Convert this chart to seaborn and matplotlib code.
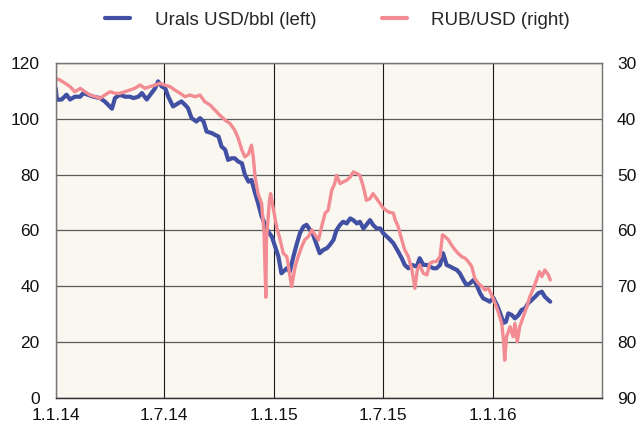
import matplotlib
matplotlib.use("Agg")
import matplotlib.pyplot as plt
from matplotlib.lines import Line2D
import seaborn as sns
import pandas as pd

# ---- data ----
urals_dates = [
    "2014-01-01", "2014-01-03", "2014-01-11", "2014-01-19", "2014-01-25", "2014-02-02", "2014-02-11",
    "2014-02-16", "2014-02-24", "2014-03-05", "2014-03-16", "2014-03-24", "2014-04-05", "2014-04-10",
    "2014-04-18", "2014-04-27", "2014-05-05", "2014-05-11", "2014-05-19", "2014-05-25", "2014-06-02",
    "2014-06-10", "2014-06-16", "2014-06-21", "2014-06-27", "2014-07-03", "2014-07-08", "2014-07-16",
    "2014-07-25", "2014-07-30", "2014-08-05", "2014-08-10", "2014-08-16", "2014-08-24", "2014-08-30",
    "2014-09-05", "2014-09-10", "2014-09-19", "2014-09-24", "2014-09-30", "2014-10-05", "2014-10-11",
    "2014-10-16", "2014-10-22", "2014-10-27", "2014-11-02", "2014-11-08", "2014-11-13", "2014-11-19",
    "2014-11-24", "2014-11-30", "2014-12-05", "2014-12-11", "2014-12-17", "2014-12-22", "2014-12-28",
    "2015-01-02", "2015-01-08", "2015-01-13", "2015-01-22", "2015-01-27", "2015-02-02", "2015-02-08",
    "2015-02-13", "2015-02-19", "2015-02-24", "2015-03-02", "2015-03-07", "2015-03-13", "2015-03-18",
    "2015-03-24", "2015-03-30", "2015-04-04", "2015-04-10", "2015-04-15", "2015-04-21", "2015-04-26",
    "2015-05-02", "2015-05-08", "2015-05-13", "2015-05-19", "2015-05-24", "2015-05-30", "2015-06-04",
    "2015-06-10", "2015-06-15", "2015-06-21", "2015-06-27", "2015-07-02", "2015-07-11", "2015-07-19",
    "2015-07-27", "2015-08-02", "2015-08-07", "2015-08-13", "2015-08-19", "2015-08-27", "2015-09-01",
    "2015-09-07", "2015-09-13", "2015-09-18", "2015-09-24", "2015-09-29", "2015-10-05", "2015-10-10",
    "2015-10-16", "2015-10-22", "2015-10-27", "2015-11-02", "2015-11-07", "2015-11-13", "2015-11-18",
    "2015-11-24", "2015-11-30", "2015-12-05", "2015-12-11", "2015-12-16", "2015-12-22", "2015-12-27",
    "2016-01-02", "2016-01-08", "2016-01-13", "2016-01-19", "2016-01-23", "2016-01-27", "2016-02-02",
    "2016-02-07", "2016-02-13", "2016-02-18", "2016-02-24", "2016-02-29", "2016-03-06", "2016-03-12",
    "2016-03-17", "2016-03-23", "2016-03-28", "2016-04-03", "2016-04-06",
]
urals_values = [
    111, 106.9, 107, 108.7, 107, 108, 108,
    109.3, 108.7, 108, 107.5, 106.3, 103.7, 107.5,
    108.7, 108, 108, 107.5, 108, 109.3, 107,
    109.3, 111, 113.5, 111.7, 111, 108, 104.5,
    105.7, 106.3, 105.1, 103.9, 100.3, 99.1, 100.3,
    99.1, 95.5, 94.9, 94.3, 93.7, 90.1, 89,
    85.3, 85.9, 85.9, 84.7, 84.1, 80, 77.5,
    78.1, 73.4, 69.8, 65, 62, 59.5, 57.8,
    54.5, 50.6, 44.6, 46.4, 45.2, 50.6, 55.4,
    59, 61.4, 62, 60.1, 58.4, 54.8, 51.8,
    53, 53.6, 54.8, 56.6, 60.1, 62, 63.1,
    62.5, 64.3, 63.7, 62.5, 63.1, 60.7, 62,
    63.7, 62, 60.7, 60.7, 59, 57.2, 55.4,
    52.4, 50, 47.6, 46.4, 47.6, 47, 50,
    47.6, 47.6, 47, 46.4, 46.4, 47.6, 51.8,
    47.6, 47, 46.4, 45.8, 44.6, 42.2, 40.4,
    41, 42.2, 40.4, 37.4, 35.6, 35, 34.4,
    35.8, 33.2, 30.5, 26.8, 27.2, 30.2, 29.6,
    28.4, 29.6, 31.4, 32, 33.8, 35, 36.2,
    37.4, 38, 36.2, 35, 34.4,
]

rub_dates = [
    "2014-01-01", "2014-01-08", "2014-01-17", "2014-01-25", "2014-02-02", "2014-02-11", "2014-02-19",
    "2014-02-27", "2014-03-08", "2014-03-16", "2014-03-24", "2014-04-02", "2014-04-10", "2014-04-18",
    "2014-04-27", "2014-05-05", "2014-05-13", "2014-05-22", "2014-05-30", "2014-06-07", "2014-06-16",
    "2014-06-24", "2014-07-02", "2014-07-11", "2014-07-19", "2014-07-28", "2014-08-05", "2014-08-13",
    "2014-08-22", "2014-08-30", "2014-09-07", "2014-09-16", "2014-09-24", "2014-10-02", "2014-10-11",
    "2014-10-19", "2014-10-27", "2014-11-02", "2014-11-08", "2014-11-13", "2014-11-19", "2014-11-24",
    "2014-11-27", "2014-11-30", "2014-12-05", "2014-12-11", "2014-12-15", "2014-12-18", "2014-12-19",
    "2014-12-24", "2014-12-26", "2014-12-30", "2015-01-05", "2015-01-11", "2015-01-16", "2015-01-22",
    "2015-01-24", "2015-01-30", "2015-02-05", "2015-02-10", "2015-02-16", "2015-02-21", "2015-02-27",
    "2015-03-05", "2015-03-10", "2015-03-16", "2015-03-21", "2015-03-27", "2015-04-01", "2015-04-07",
    "2015-04-12", "2015-04-15", "2015-04-21", "2015-04-26", "2015-05-02", "2015-05-08", "2015-05-13",
    "2015-05-19", "2015-05-24", "2015-05-30", "2015-06-04", "2015-06-10", "2015-06-15", "2015-06-21",
    "2015-06-27", "2015-07-02", "2015-07-11", "2015-07-19", "2015-07-22", "2015-07-27", "2015-08-02",
    "2015-08-07", "2015-08-13", "2015-08-19", "2015-08-24", "2015-08-28", "2015-09-01", "2015-09-07",
    "2015-09-13", "2015-09-18", "2015-09-24", "2015-09-29", "2015-10-05", "2015-10-09", "2015-10-13",
    "2015-10-19", "2015-10-24", "2015-10-30", "2015-11-04", "2015-11-10", "2015-11-16", "2015-11-21",
    "2015-11-27", "2015-12-02", "2015-12-08", "2015-12-14", "2015-12-19", "2015-12-25", "2015-12-30",
    "2016-01-05", "2016-01-10", "2016-01-16", "2016-01-19", "2016-01-21", "2016-01-24", "2016-01-30",
    "2016-02-04", "2016-02-07", "2016-02-11", "2016-02-15", "2016-02-21", "2016-02-27", "2016-03-03",
    "2016-03-09", "2016-03-14", "2016-03-19", "2016-03-23", "2016-03-28", "2016-04-03", "2016-04-06",
]
rub_values = [
    32.7, 33, 33.6, 34.2, 35.1, 34.5, 35.1,
    35.7, 36, 36.3, 35.7, 35.1, 35.4, 35.4,
    35.1, 34.8, 34.5, 33.9, 34.5, 34.2, 33.9,
    33.6, 33.9, 34.2, 34.8, 35.4, 36, 35.7,
    36, 35.7, 36.9, 37.5, 38.4, 39.3, 40.2,
    40.8, 42, 43.5, 45.6, 46.8, 46.3, 44.7,
    46.8, 50.4, 53.4, 55.2, 60.5, 72, 61.7,
    54.6, 53.4, 55.8, 59.4, 61.7, 64.1, 64.7,
    65.9, 70.1, 66.5, 64.7, 62.9, 61.7, 61.1,
    59.9, 60.8, 61.7, 59.4, 56.9, 56.4, 52.8,
    51.6, 50.1, 51.6, 51.3, 51, 50.4, 49.5,
    49.8, 50.1, 52.2, 54.6, 54.3, 53.4, 54.3,
    55.2, 56, 56.7, 56.9, 58.1, 59.3, 61.7,
    63.5, 64.7, 67.1, 70.4, 67.1, 66.2, 67.7,
    68, 65.9, 65.6, 65.6, 64.7, 60.8, 61.1,
    61.7, 62.6, 63.5, 64.1, 64.7, 65, 65.6,
    66.5, 68.6, 69.5, 70.1, 70.7, 70.4, 71.6,
    73.1, 74.6, 76.7, 79.7, 83.3, 79.1, 77.3,
    79.1, 76.7, 80, 77.3, 75.5, 73.7, 71.9,
    70.4, 68.9, 67.4, 68.3, 67.1, 68, 68.9,
]

x_tick_dates = ["2014-01-01", "2014-07-01", "2015-01-01", "2015-07-01", "2016-01-01"]
x_tick_labels = ["1.1.14", "1.7.14", "1.1.15", "1.7.15", "1.1.16"]
left_ticks = [0, 20, 40, 60, 80, 100, 120]
right_ticks = [30, 40, 50, 60, 70, 80, 90]
series_names = ["Urals USD/bbl (left)", "RUB/USD (right)"]

# ---- styling ----
sns.set_theme(style="white")
plt.rcParams["font.family"] = ["Liberation Sans", "DejaVu Sans"]

BLUE = "#4150A2"
PINK = "#F28B92"
BG = "#FAF6F0"
GRID_H = "#5a5a5a"
GRID_V = "#1a1a1a"
TICK_FS = 12.5
LEG_FS = 13.5

urals = pd.DataFrame({"date": pd.to_datetime(urals_dates), "value": urals_values})
rub = pd.DataFrame({"date": pd.to_datetime(rub_dates), "value": rub_values})

fig = plt.figure(figsize=(6.41, 4.25), dpi=100)
ax = fig.add_axes([0.0869, 0.0647, 0.8518, 0.7864])
ax.set_facecolor(BG)

sns.lineplot(data=urals, x="date", y="value", ax=ax, color=BLUE, linewidth=3.0, legend=False)
ax.set_ylim(0, 120)
ax.set_yticks(left_ticks)
ax.set_xlim(pd.Timestamp("2014-01-01"), pd.Timestamp("2016-07-01"))
ax.set_xticks(pd.to_datetime(x_tick_dates))
ax.set_xticklabels(x_tick_labels)
ax.set_xlabel("")
ax.set_ylabel("")

# grid lines
for v in left_ticks:
    ax.axhline(v, color=GRID_H, linewidth=0.9, zorder=0.5)
for d in x_tick_dates:
    ax.axvline(pd.Timestamp(d), color=GRID_V, linewidth=0.8, zorder=0.5)

ax2 = ax.twinx()
sns.lineplot(data=rub, x="date", y="value", ax=ax2, color=PINK, linewidth=2.4, legend=False)
ax2.set_ylim(90, 30)
ax2.set_yticks(right_ticks)
ax2.set_ylabel("")
ax2.set_xlim(pd.Timestamp("2014-01-01"), pd.Timestamp("2016-07-01"))

for a in (ax, ax2):
    for s in a.spines.values():
        s.set_color("#777777")
        s.set_linewidth(0.9)
    a.spines["bottom"].set_color("#333333")
    a.tick_params(length=0, labelsize=TICK_FS, colors="#111111")

ax.tick_params(axis="y", pad=11.5)
ax.tick_params(axis="x", pad=7.5)
ax2.tick_params(axis="y", pad=11)

handles = [
    Line2D([], [], color=BLUE, linewidth=3.0),
    Line2D([], [], color=PINK, linewidth=3.0),
]
fig.legend(handles, series_names, loc="center", bbox_to_anchor=(0.5265, 1 - 20 / 425),
           ncol=2, frameon=False, fontsize=LEG_FS, handlelength=1.35, handletextpad=1.3,
           columnspacing=3.5)

fig.savefig("out.png", dpi=100, facecolor="white")
